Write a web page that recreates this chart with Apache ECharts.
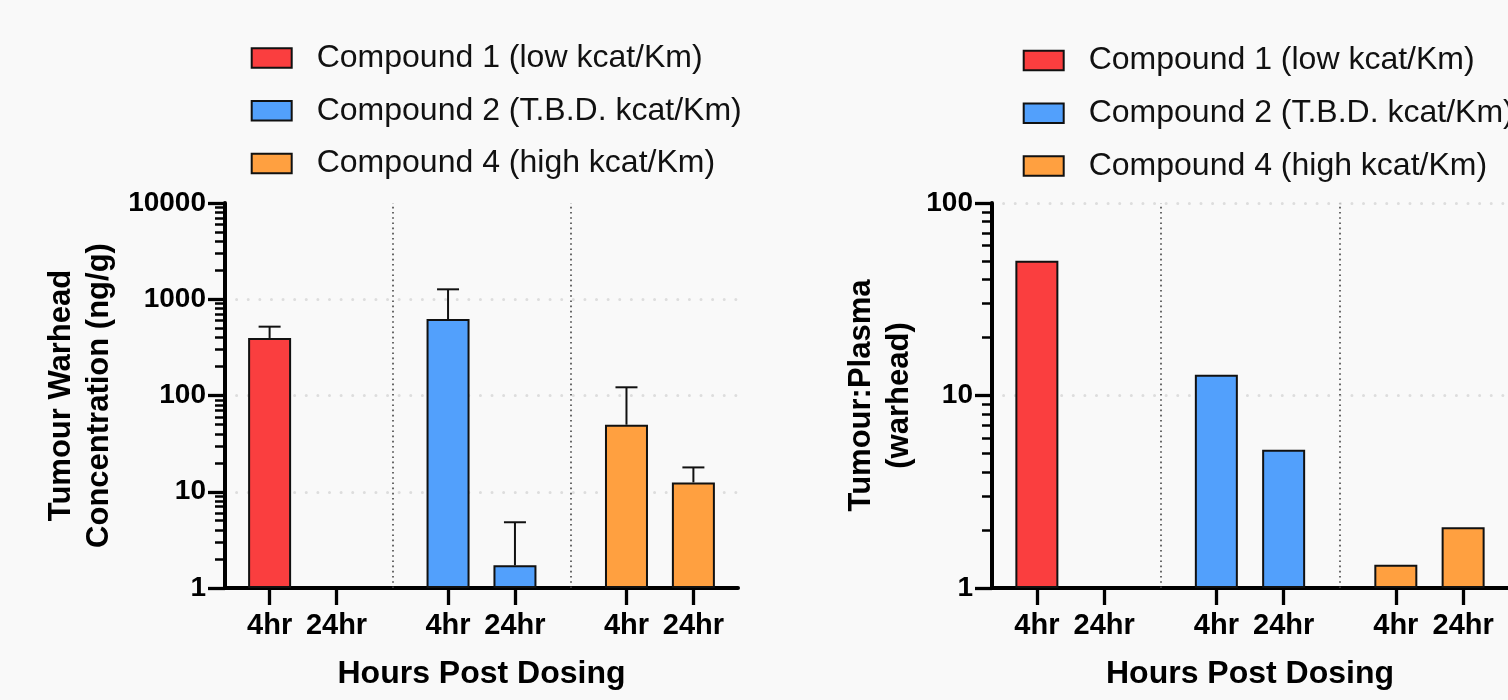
<!DOCTYPE html>
<html><head><meta charset="utf-8">
<script src="https://cdn.jsdelivr.net/npm/echarts@6/dist/echarts.min.js"></script>
<style>html,body{margin:0;padding:0;background:#f9f9f9}#c{width:1508px;height:700px}</style>
</head><body><div id="c"></div>
<script>
// ---- data ----
const compounds = ['Compound 1 (low kcat/Km)', 'Compound 2 (T.B.D. kcat/Km)', 'Compound 4 (high kcat/Km)'];
const timepoints = ['4hr', '24hr'];
const concMean  = [[396, null], [623, 1.72], [49.7, 12.5]];     // ng/g
const concUpper = [[519, null], [1268, 4.82], [121.7, 17.9]];   // mean + error
const ratioMean = [[50.1, null], [12.8, 5.23], [1.32, 2.07]];   // tumour:plasma
const xTitle = 'Hours Post Dosing';
const yTitleLeft = 'Tumour Warhead\nConcentration (ng/g)';
const yTitleRight = 'Tumour:Plasma\n(warhead)';

// ---- style / layout ----
const FONT = '"Liberation Sans", Arial, Helvetica, sans-serif';
const colors = ['#FA3E3F', '#52A0FC', '#FFA040'];
const GROUP_STEP = 8, TIME_STEP = 3, FIRST = 2, XMAX = 23;
const pos = (g, t) => FIRST + g * GROUP_STEP + t * TIME_STEP;
const tickPos = [], tickLab = {};
compounds.forEach((c, g) => timepoints.forEach((tp, t) => { tickPos.push(pos(g, t)); tickLab[pos(g, t)] = tp; }));
const seps = compounds.slice(1).map((c, g) => pos(g, 1) + (pos(g + 1, 0) - pos(g, 1)) / 2);

function xAxisCfg(gi) {
  return {
    type: 'value', gridIndex: gi, min: 0, max: XMAX,
    name: xTitle, nameLocation: 'middle', nameGap: 70,
    nameTextStyle: { fontSize: 32, fontWeight: 'bold', color: '#000', fontFamily: FONT },
    axisLine: { onZero: false, lineStyle: { color: '#000', width: 4 } },
    axisTick: { customValues: tickPos, length: 17, lineStyle: { color: '#000', width: 3.3 } },
    axisLabel: { customValues: tickPos, formatter: v => tickLab[Math.round(v)] || '', margin: 23,
      fontSize: 29, fontWeight: 'bold', color: '#000', fontFamily: FONT },
    splitLine: { show: false }
  };
}
function yAxisCfg(gi, max, name, gap, showMax) {
  return {
    type: 'log', logBase: 10, gridIndex: gi, min: 1, max: max,
    name: name, nameLocation: 'middle', nameGap: gap, nameRotate: 90,
    nameTextStyle: { fontSize: 31, fontWeight: 'bold', color: '#000', lineHeight: 38.4, fontFamily: FONT },
    axisLine: { show: true, lineStyle: { color: '#000', width: 4 } },
    axisTick: { show: true, length: 17, lineStyle: { color: '#000', width: 3.3 } },
    minorTick: { show: true, splitNumber: 9, length: 10, lineStyle: { color: '#000', width: 2.5 } },
    axisLabel: { formatter: v => String(Math.round(v)), margin: 19, fontSize: 28, fontWeight: 'bold', color: '#000', fontFamily: FONT },
    splitLine: { show: true, showMinLine: false, showMaxLine: showMax,
      lineStyle: { color: '#dddddd', width: 3, type: [0.01, 11.6], cap: 'round' } },
    minorSplitLine: { show: false }
  };
}

const series = [];
[concMean, ratioMean].forEach((means, gi) => {
  compounds.forEach((c, g) => {
    const data = [];
    timepoints.forEach((tp, t) => { if (means[g][t] != null) data.push([pos(g, t), means[g][t]]); });
    const s = {
      type: 'bar', name: c, xAxisIndex: gi, yAxisIndex: gi, data: data,
      barWidth: 43, barGap: '-100%',
      itemStyle: { color: colors[g], borderColor: '#111', borderWidth: 2 },
      emphasis: { disabled: true }
    };
    if (g === 0) {
      s.markLine = { silent: true, symbol: 'none', animation: false, label: { show: false },
        lineStyle: { color: '#444', width: 1.6, type: [1.6, 3.6] },
        data: seps.map(x => ({ xAxis: x })) };
    }
    series.push(s);
  });
});
// error bars (upper only) for left panel
const errData = [];
compounds.forEach((c, g) => timepoints.forEach((tp, t) => {
  if (concMean[g][t] != null) errData.push([pos(g, t), concMean[g][t], concUpper[g][t]]);
}));
series.push({
  type: 'custom', name: 'error', xAxisIndex: 0, yAxisIndex: 0, data: errData, z: 3,
  encode: { x: 0, y: [1, 2] },
  renderItem: function (params, api) {
    const x = api.value(0), m = api.value(1), u = api.value(2);
    const p0 = api.coord([x, m]), p1 = api.coord([x, u]);
    const hw = 11;
    return { type: 'group', children: [
      { type: 'line', shape: { x1: p0[0], y1: p0[1], x2: p1[0], y2: p1[1] }, style: { stroke: '#111', lineWidth: 2 } },
      { type: 'line', shape: { x1: p1[0] - hw, y1: p1[1], x2: p1[0] + hw, y2: p1[1] }, style: { stroke: '#111', lineWidth: 2 } }
    ] };
  }
});

function legendCfg(left, top) {
  return {
    data: compounds, orient: 'vertical', left: left, top: top, icon: 'rect', padding: 0,
    itemWidth: 40, itemHeight: 19.5, itemGap: 20.7, selectedMode: false,
    textStyle: { fontSize: 32, color: '#111', fontFamily: FONT, padding: [0, 0, 0, 20] }
  };
}

const chart = echarts.init(document.getElementById('c'));
chart.setOption({
  backgroundColor: '#f9f9f9',
  animation: false,
  legend: [legendCfg(250.7, 42), legendCfg(1022.7, 44.5)],
  grid: [
    { left: 225, top: 203, width: 513, height: 385 },
    { left: 992, top: 203, width: 516, height: 385 }
  ],
  xAxis: [xAxisCfg(0), xAxisCfg(1)],
  yAxis: [yAxisCfg(0, 10000, yTitleLeft, 106, false), yAxisCfg(1, 100, yTitleRight, 73, true)],
  series: series
});
</script></body></html>
